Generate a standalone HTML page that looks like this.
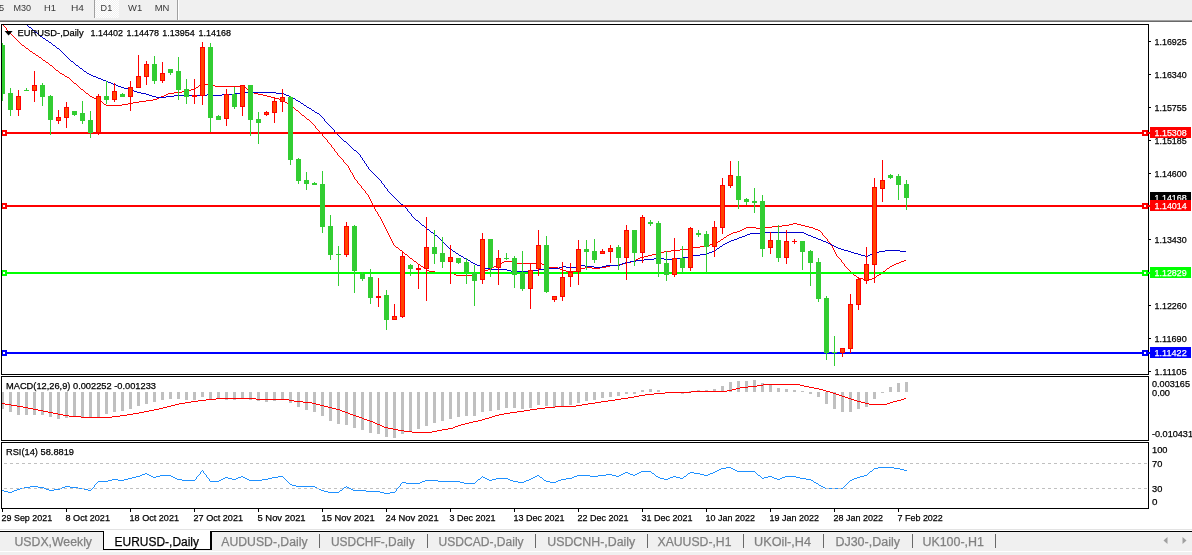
<!DOCTYPE html>
<html><head><meta charset="utf-8"><title>EURUSD-,Daily</title>
<style>
html,body{margin:0;padding:0;background:#fff;}
body{width:1192px;height:555px;overflow:hidden;}
svg{display:block;font-family:"Liberation Sans",sans-serif;}
svg rect{shape-rendering:crispEdges;}
</style></head><body>
<svg width="1192" height="555" viewBox="0 0 1192 555">
<rect x="0" y="0" width="1192" height="555" fill="#fff"/>
<rect x="0" y="0" width="1192" height="20" fill="#f0f0f0"/>
<rect x="0" y="20" width="1192" height="1" fill="#a0a0a0"/>
<rect x="0" y="21" width="1192" height="1" fill="#696969"/>
<pattern id="ck" width="2" height="2" patternUnits="userSpaceOnUse"><rect width="2" height="2" fill="#f0f0f0"/><rect width="1" height="1" fill="#fff"/><rect x="1" y="1" width="1" height="1" fill="#fff"/></pattern>
<rect x="95" y="0" width="24" height="18" fill="url(#ck)"/>
<rect x="94" y="0" width="1" height="18" fill="#a0a0a0"/>
<rect x="177" y="0" width="1" height="20" fill="#a0a0a0"/>
<rect x="178" y="0" width="1" height="20" fill="#fff"/>
<text x="-1" y="11.3" font-size="9.2" fill="#383838" stroke="#383838" stroke-width="0">5</text>
<text x="13.5" y="11.3" font-size="9.2" fill="#383838" stroke="#383838" stroke-width="0" textLength="17.6" lengthAdjust="spacingAndGlyphs">M30</text>
<text x="44" y="11.3" font-size="9.2" fill="#383838" stroke="#383838" stroke-width="0" textLength="12" lengthAdjust="spacingAndGlyphs">H1</text>
<text x="71" y="11.3" font-size="9.2" fill="#383838" stroke="#383838" stroke-width="0" textLength="13" lengthAdjust="spacingAndGlyphs">H4</text>
<text x="100.6" y="11.3" font-size="9.2" fill="#383838" stroke="#383838" stroke-width="0" textLength="11.6" lengthAdjust="spacingAndGlyphs">D1</text>
<text x="128.1" y="11.3" font-size="9.2" fill="#383838" stroke="#383838" stroke-width="0" textLength="14.1" lengthAdjust="spacingAndGlyphs">W1</text>
<text x="154.7" y="11.3" font-size="9.2" fill="#383838" stroke="#383838" stroke-width="0" textLength="14.7" lengthAdjust="spacingAndGlyphs">MN</text>
<clipPath id="cm"><rect x="2" y="25" width="1146" height="349"/></clipPath>
<g clip-path="url(#cm)">
<path d="M2 24h1v1h-1zM3 25h1v1h-1zM4 26h1v1h-1zM5 27h1v1h-1zM6 28h1v1h-1zM6 29h1v1h-1zM7 30h1v1h-1zM8 31h1v1h-1zM9 32h1v1h-1zM10 33h1v1h-1zM11 34h1v1h-1zM12 35h1v1h-1zM13 36h1v1h-1zM14 37h1v1h-1zM15 38h1v1h-1zM16 39h1v1h-1zM17 40h1v1h-1zM18 41h1v1h-1zM19 42h1v1h-1zM20 43h1v1h-1zM21 44h1v1h-1zM22 45h2v1h-2zM24 46h1v1h-1zM25 47h1v1h-1zM26 48h2v1h-2zM28 49h1v1h-1zM29 50h1v1h-1zM30 51h2v1h-2zM32 52h1v1h-1zM33 53h2v1h-2zM35 54h1v1h-1zM36 55h2v1h-2zM38 56h1v1h-1zM39 57h2v1h-2zM41 58h1v1h-1zM42 59h1v1h-1zM43 60h2v1h-2zM45 61h1v1h-1zM46 62h2v1h-2zM48 63h1v1h-1zM49 64h1v1h-1zM50 65h2v1h-2zM52 66h1v1h-1zM53 67h1v1h-1zM54 68h1v1h-1zM55 69h1v1h-1zM56 70h2v1h-2zM58 71h1v1h-1zM59 72h1v1h-1zM60 73h2v1h-2zM62 74h2v1h-2zM64 75h1v1h-1zM65 76h2v1h-2zM67 77h2v1h-2zM69 78h1v1h-1zM70 79h1v1h-1zM71 80h1v1h-1zM72 81h1v1h-1zM73 82h1v1h-1zM74 83h2v1h-2zM76 84h1v1h-1zM201 84h10v1h-10zM77 85h1v1h-1zM199 85h2v1h-2zM211 85h4v1h-4zM78 86h1v1h-1zM198 86h1v1h-1zM215 86h27v1h-27zM79 87h1v1h-1zM196 87h2v1h-2zM242 87h4v1h-4zM80 88h1v1h-1zM194 88h2v1h-2zM246 88h1v1h-1zM81 89h2v1h-2zM191 89h3v1h-3zM247 89h2v1h-2zM83 90h1v1h-1zM187 90h4v1h-4zM249 90h1v1h-1zM84 91h1v1h-1zM182 91h5v1h-5zM250 91h2v1h-2zM85 92h1v1h-1zM174 92h8v1h-8zM252 92h2v1h-2zM86 93h2v1h-2zM168 93h6v1h-6zM254 93h4v1h-4zM88 94h1v1h-1zM166 94h2v1h-2zM258 94h5v1h-5zM89 95h1v1h-1zM164 95h2v1h-2zM263 95h4v1h-4zM90 96h2v1h-2zM161 96h3v1h-3zM267 96h4v1h-4zM92 97h2v1h-2zM159 97h2v1h-2zM271 97h4v1h-4zM94 98h2v1h-2zM157 98h2v1h-2zM275 98h4v1h-4zM96 99h2v1h-2zM153 99h4v1h-4zM279 99h2v1h-2zM98 100h2v1h-2zM146 100h7v1h-7zM281 100h2v1h-2zM100 101h2v1h-2zM139 101h7v1h-7zM283 101h2v1h-2zM102 102h1v1h-1zM133 102h6v1h-6zM285 102h2v1h-2zM103 103h1v1h-1zM128 103h5v1h-5zM287 103h1v1h-1zM104 104h2v1h-2zM122 104h6v1h-6zM288 104h2v1h-2zM106 105h16v1h-16zM290 105h2v1h-2zM292 106h1v1h-1zM293 107h1v1h-1zM294 108h1v1h-1zM295 109h1v1h-1zM296 110h2v1h-2zM298 111h1v1h-1zM299 112h1v1h-1zM300 113h1v1h-1zM301 114h1v1h-1zM302 115h2v1h-2zM304 116h1v1h-1zM305 117h1v1h-1zM306 118h1v1h-1zM307 119h2v1h-2zM309 120h1v1h-1zM310 121h1v1h-1zM311 122h1v1h-1zM312 123h1v1h-1zM313 124h1v1h-1zM314 125h1v1h-1zM315 126h1v1h-1zM315 127h1v1h-1zM316 128h1v1h-1zM317 129h1v1h-1zM318 130h1v1h-1zM319 131h1v1h-1zM320 132h1v1h-1zM321 133h1v1h-1zM322 134h1v1h-1zM322 135h1v1h-1zM323 136h1v1h-1zM324 137h1v1h-1zM325 138h1v1h-1zM326 139h1v1h-1zM327 140h1v1h-1zM327 141h1v1h-1zM328 142h1v1h-1zM329 143h1v1h-1zM330 144h1v1h-1zM331 145h1v1h-1zM331 146h1v1h-1zM332 147h1v1h-1zM333 148h1v1h-1zM334 149h1v1h-1zM334 150h1v1h-1zM335 151h1v1h-1zM336 152h1v1h-1zM337 153h1v1h-1zM337 154h1v1h-1zM338 155h1v1h-1zM339 156h1v1h-1zM340 157h1v1h-1zM341 158h1v1h-1zM342 159h1v1h-1zM343 160h1v1h-1zM343 161h1v1h-1zM344 162h1v1h-1zM345 163h1v1h-1zM346 164h1v1h-1zM347 165h1v1h-1zM348 166h1v1h-1zM348 167h1v1h-1zM349 168h1v1h-1zM349 169h1v1h-1zM350 170h1v1h-1zM350 171h1v1h-1zM351 172h1v1h-1zM352 173h1v1h-1zM352 174h1v1h-1zM353 175h1v1h-1zM353 176h1v1h-1zM354 177h1v1h-1zM354 178h1v1h-1zM355 179h1v1h-1zM356 180h1v1h-1zM357 181h1v1h-1zM357 182h1v1h-1zM358 183h1v1h-1zM359 184h1v1h-1zM360 185h1v1h-1zM361 186h1v1h-1zM361 187h1v1h-1zM362 188h1v1h-1zM363 189h1v1h-1zM364 190h1v1h-1zM365 191h1v1h-1zM365 192h1v1h-1zM366 193h1v1h-1zM367 194h1v1h-1zM368 195h1v1h-1zM368 196h1v1h-1zM369 197h1v1h-1zM369 198h1v1h-1zM370 199h1v1h-1zM370 200h1v1h-1zM371 201h1v1h-1zM371 202h1v1h-1zM372 203h1v1h-1zM372 204h1v1h-1zM373 205h1v1h-1zM373 206h1v1h-1zM374 207h1v1h-1zM374 208h1v1h-1zM375 209h1v1h-1zM375 210h1v1h-1zM376 211h1v1h-1zM377 212h1v1h-1zM377 213h1v1h-1zM378 214h1v1h-1zM378 215h1v1h-1zM379 216h1v1h-1zM380 217h1v1h-1zM380 218h1v1h-1zM381 219h1v1h-1zM381 220h1v1h-1zM382 221h1v1h-1zM382 222h1v1h-1zM383 223h1v1h-1zM793 223h4v1h-4zM383 224h1v1h-1zM789 224h4v1h-4zM797 224h4v1h-4zM384 225h1v1h-1zM782 225h7v1h-7zM801 225h4v1h-4zM384 226h1v1h-1zM772 226h10v1h-10zM805 226h4v1h-4zM385 227h1v1h-1zM746 227h10v1h-10zM764 227h8v1h-8zM809 227h4v1h-4zM385 228h1v1h-1zM744 228h2v1h-2zM756 228h8v1h-8zM813 228h2v1h-2zM386 229h1v1h-1zM742 229h2v1h-2zM815 229h3v1h-3zM386 230h1v1h-1zM740 230h2v1h-2zM818 230h2v1h-2zM387 231h1v1h-1zM737 231h3v1h-3zM820 231h1v1h-1zM387 232h1v1h-1zM733 232h4v1h-4zM821 232h1v1h-1zM388 233h1v1h-1zM731 233h2v1h-2zM822 233h1v1h-1zM388 234h1v1h-1zM729 234h2v1h-2zM822 234h1v1h-1zM389 235h1v1h-1zM727 235h2v1h-2zM823 235h1v1h-1zM389 236h1v1h-1zM726 236h1v1h-1zM824 236h1v1h-1zM390 237h1v1h-1zM724 237h2v1h-2zM825 237h1v1h-1zM390 238h1v1h-1zM723 238h1v1h-1zM826 238h1v1h-1zM391 239h1v1h-1zM721 239h2v1h-2zM827 239h1v1h-1zM391 240h1v1h-1zM720 240h1v1h-1zM827 240h1v1h-1zM392 241h1v1h-1zM718 241h2v1h-2zM828 241h1v1h-1zM392 242h1v1h-1zM716 242h2v1h-2zM829 242h1v1h-1zM393 243h1v1h-1zM713 243h3v1h-3zM830 243h1v1h-1zM393 244h1v1h-1zM710 244h3v1h-3zM830 244h1v1h-1zM394 245h1v1h-1zM707 245h3v1h-3zM831 245h1v1h-1zM395 246h1v1h-1zM700 246h7v1h-7zM832 246h1v1h-1zM396 247h2v1h-2zM693 247h7v1h-7zM832 247h1v1h-1zM398 248h1v1h-1zM688 248h5v1h-5zM833 248h1v1h-1zM399 249h1v1h-1zM680 249h8v1h-8zM833 249h1v1h-1zM400 250h2v1h-2zM671 250h9v1h-9zM834 250h1v1h-1zM402 251h1v1h-1zM664 251h7v1h-7zM834 251h1v1h-1zM403 252h1v1h-1zM660 252h4v1h-4zM835 252h1v1h-1zM404 253h1v1h-1zM656 253h4v1h-4zM835 253h1v1h-1zM405 254h2v1h-2zM652 254h4v1h-4zM836 254h1v1h-1zM407 255h1v1h-1zM648 255h4v1h-4zM836 255h1v1h-1zM408 256h1v1h-1zM644 256h4v1h-4zM837 256h1v1h-1zM409 257h1v1h-1zM640 257h4v1h-4zM838 257h1v1h-1zM410 258h2v1h-2zM638 258h2v1h-2zM839 258h1v1h-1zM412 259h1v1h-1zM636 259h2v1h-2zM840 259h1v1h-1zM413 260h1v1h-1zM634 260h2v1h-2zM841 260h1v1h-1zM904 260h2v1h-2zM414 261h2v1h-2zM504 261h9v1h-9zM631 261h3v1h-3zM841 261h1v1h-1zM901 261h3v1h-3zM416 262h1v1h-1zM502 262h2v1h-2zM513 262h4v1h-4zM627 262h4v1h-4zM842 262h1v1h-1zM899 262h2v1h-2zM417 263h1v1h-1zM500 263h2v1h-2zM517 263h25v1h-25zM623 263h4v1h-4zM843 263h1v1h-1zM896 263h3v1h-3zM418 264h2v1h-2zM498 264h2v1h-2zM542 264h2v1h-2zM619 264h4v1h-4zM844 264h1v1h-1zM894 264h2v1h-2zM420 265h1v1h-1zM496 265h2v1h-2zM544 265h2v1h-2zM610 265h9v1h-9zM844 265h1v1h-1zM892 265h2v1h-2zM421 266h2v1h-2zM494 266h2v1h-2zM546 266h2v1h-2zM606 266h4v1h-4zM845 266h1v1h-1zM890 266h2v1h-2zM423 267h2v1h-2zM492 267h2v1h-2zM548 267h10v1h-10zM585 267h7v1h-7zM600 267h6v1h-6zM846 267h1v1h-1zM889 267h1v1h-1zM425 268h1v1h-1zM490 268h2v1h-2zM558 268h2v1h-2zM580 268h5v1h-5zM592 268h8v1h-8zM847 268h1v1h-1zM887 268h2v1h-2zM426 269h1v1h-1zM488 269h2v1h-2zM560 269h3v1h-3zM578 269h2v1h-2zM848 269h1v1h-1zM886 269h1v1h-1zM427 270h2v1h-2zM485 270h3v1h-3zM563 270h3v1h-3zM576 270h2v1h-2zM849 270h1v1h-1zM885 270h1v1h-1zM429 271h6v1h-6zM483 271h2v1h-2zM566 271h10v1h-10zM850 271h1v1h-1zM883 271h2v1h-2zM435 272h9v1h-9zM480 272h3v1h-3zM851 272h1v1h-1zM882 272h1v1h-1zM444 273h10v1h-10zM477 273h3v1h-3zM852 273h1v1h-1zM881 273h1v1h-1zM454 274h2v1h-2zM474 274h3v1h-3zM853 274h1v1h-1zM879 274h2v1h-2zM456 275h18v1h-18zM854 275h2v1h-2zM877 275h2v1h-2zM856 276h1v1h-1zM876 276h1v1h-1zM857 277h2v1h-2zM874 277h2v1h-2zM859 278h4v1h-4zM872 278h2v1h-2zM863 279h3v1h-3zM869 279h3v1h-3zM866 280h3v1h-3z" fill="#ff0000" shape-rendering="crispEdges"/>
<path d="M26 24h1v1h-1zM27 25h1v1h-1zM28 26h1v1h-1zM29 27h2v1h-2zM31 28h1v1h-1zM32 29h1v1h-1zM33 30h1v1h-1zM34 31h1v1h-1zM35 32h2v1h-2zM37 33h1v1h-1zM38 34h1v1h-1zM39 35h1v1h-1zM40 36h2v1h-2zM42 37h1v1h-1zM43 38h2v1h-2zM45 39h1v1h-1zM46 40h2v1h-2zM48 41h1v1h-1zM49 42h2v1h-2zM51 43h1v1h-1zM52 44h1v1h-1zM53 45h2v1h-2zM55 46h1v1h-1zM56 47h1v1h-1zM57 48h2v1h-2zM59 49h1v1h-1zM60 50h1v1h-1zM61 51h1v1h-1zM62 52h1v1h-1zM63 53h1v1h-1zM64 54h1v1h-1zM65 55h1v1h-1zM66 56h1v1h-1zM67 57h1v1h-1zM68 58h1v1h-1zM69 59h1v1h-1zM70 60h1v1h-1zM71 61h2v1h-2zM73 62h1v1h-1zM74 63h1v1h-1zM75 64h1v1h-1zM76 65h2v1h-2zM78 66h1v1h-1zM79 67h1v1h-1zM80 68h2v1h-2zM82 69h1v1h-1zM83 70h1v1h-1zM84 71h2v1h-2zM86 72h1v1h-1zM87 73h2v1h-2zM89 74h2v1h-2zM91 75h2v1h-2zM93 76h3v1h-3zM96 77h2v1h-2zM98 78h3v1h-3zM101 79h2v1h-2zM103 80h3v1h-3zM106 81h2v1h-2zM108 82h3v1h-3zM111 83h2v1h-2zM113 84h3v1h-3zM116 85h2v1h-2zM118 86h3v1h-3zM121 87h3v1h-3zM124 88h4v1h-4zM128 89h3v1h-3zM131 90h3v1h-3zM134 91h3v1h-3zM137 92h4v1h-4zM244 92h32v1h-32zM141 93h5v1h-5zM234 93h10v1h-10zM276 93h8v1h-8zM146 94h3v1h-3zM207 94h1v1h-1zM222 94h12v1h-12zM284 94h2v1h-2zM149 95h3v1h-3zM174 95h33v1h-33zM208 95h14v1h-14zM286 95h3v1h-3zM152 96h4v1h-4zM166 96h8v1h-8zM289 96h2v1h-2zM156 97h10v1h-10zM291 97h2v1h-2zM293 98h2v1h-2zM295 99h1v1h-1zM296 100h2v1h-2zM298 101h2v1h-2zM300 102h1v1h-1zM301 103h2v1h-2zM303 104h1v1h-1zM304 105h2v1h-2zM306 106h1v1h-1zM307 107h2v1h-2zM309 108h2v1h-2zM311 109h1v1h-1zM312 110h2v1h-2zM314 111h1v1h-1zM315 112h2v1h-2zM317 113h2v1h-2zM319 114h1v1h-1zM320 115h1v1h-1zM321 116h1v1h-1zM322 117h1v1h-1zM323 118h1v1h-1zM324 119h1v1h-1zM324 120h1v1h-1zM325 121h1v1h-1zM326 122h1v1h-1zM327 123h1v1h-1zM328 124h1v1h-1zM329 125h1v1h-1zM330 126h1v1h-1zM331 127h1v1h-1zM332 128h1v1h-1zM333 129h1v1h-1zM334 130h1v1h-1zM334 131h1v1h-1zM335 132h1v1h-1zM336 133h1v1h-1zM337 134h1v1h-1zM338 135h1v1h-1zM339 136h1v1h-1zM340 137h1v1h-1zM341 138h1v1h-1zM342 139h1v1h-1zM343 140h1v1h-1zM344 141h2v1h-2zM346 142h1v1h-1zM347 143h1v1h-1zM348 144h1v1h-1zM349 145h1v1h-1zM350 146h1v1h-1zM351 147h1v1h-1zM352 148h1v1h-1zM353 149h1v1h-1zM354 150h2v1h-2zM356 151h1v1h-1zM357 152h1v1h-1zM358 153h1v1h-1zM359 154h1v1h-1zM360 155h1v1h-1zM360 156h1v1h-1zM361 157h1v1h-1zM362 158h1v1h-1zM362 159h1v1h-1zM363 160h1v1h-1zM364 161h1v1h-1zM364 162h1v1h-1zM365 163h1v1h-1zM366 164h1v1h-1zM366 165h1v1h-1zM367 166h1v1h-1zM368 167h1v1h-1zM368 168h1v1h-1zM369 169h1v1h-1zM370 170h1v1h-1zM371 171h1v1h-1zM372 172h1v1h-1zM373 173h1v1h-1zM374 174h1v1h-1zM375 175h1v1h-1zM376 176h1v1h-1zM377 177h1v1h-1zM378 178h1v1h-1zM379 179h1v1h-1zM380 180h1v1h-1zM381 181h1v1h-1zM381 182h1v1h-1zM382 183h1v1h-1zM383 184h1v1h-1zM384 185h1v1h-1zM384 186h1v1h-1zM385 187h1v1h-1zM386 188h1v1h-1zM387 189h1v1h-1zM387 190h1v1h-1zM388 191h1v1h-1zM389 192h1v1h-1zM390 193h1v1h-1zM391 194h1v1h-1zM392 195h1v1h-1zM393 196h1v1h-1zM394 197h1v1h-1zM395 198h1v1h-1zM396 199h1v1h-1zM397 200h1v1h-1zM398 201h1v1h-1zM399 202h1v1h-1zM400 203h1v1h-1zM401 204h2v1h-2zM403 205h1v1h-1zM404 206h1v1h-1zM405 207h1v1h-1zM406 208h1v1h-1zM407 209h1v1h-1zM407 210h1v1h-1zM408 211h1v1h-1zM409 212h1v1h-1zM410 213h1v1h-1zM411 214h1v1h-1zM411 215h1v1h-1zM412 216h1v1h-1zM413 217h1v1h-1zM414 218h1v1h-1zM415 219h1v1h-1zM416 220h2v1h-2zM418 221h1v1h-1zM419 222h1v1h-1zM420 223h1v1h-1zM421 224h1v1h-1zM422 225h2v1h-2zM424 226h1v1h-1zM425 227h1v1h-1zM426 228h1v1h-1zM427 229h2v1h-2zM429 230h1v1h-1zM430 231h1v1h-1zM431 232h2v1h-2zM762 232h42v1h-42zM433 233h1v1h-1zM750 233h12v1h-12zM804 233h2v1h-2zM434 234h1v1h-1zM747 234h3v1h-3zM806 234h2v1h-2zM435 235h2v1h-2zM745 235h2v1h-2zM808 235h3v1h-3zM437 236h1v1h-1zM742 236h3v1h-3zM811 236h2v1h-2zM438 237h1v1h-1zM739 237h3v1h-3zM813 237h3v1h-3zM439 238h1v1h-1zM737 238h2v1h-2zM816 238h2v1h-2zM440 239h1v1h-1zM734 239h3v1h-3zM818 239h3v1h-3zM441 240h1v1h-1zM731 240h3v1h-3zM821 240h2v1h-2zM442 241h1v1h-1zM729 241h2v1h-2zM823 241h3v1h-3zM443 242h1v1h-1zM727 242h2v1h-2zM826 242h2v1h-2zM444 243h1v1h-1zM725 243h2v1h-2zM828 243h2v1h-2zM445 244h1v1h-1zM723 244h2v1h-2zM830 244h2v1h-2zM446 245h1v1h-1zM722 245h1v1h-1zM832 245h2v1h-2zM447 246h1v1h-1zM720 246h2v1h-2zM834 246h2v1h-2zM448 247h1v1h-1zM719 247h1v1h-1zM836 247h2v1h-2zM449 248h2v1h-2zM717 248h2v1h-2zM838 248h3v1h-3zM451 249h1v1h-1zM716 249h1v1h-1zM841 249h3v1h-3zM452 250h1v1h-1zM714 250h2v1h-2zM844 250h4v1h-4zM885 250h15v1h-15zM453 251h2v1h-2zM712 251h2v1h-2zM848 251h3v1h-3zM879 251h6v1h-6zM900 251h6v1h-6zM455 252h1v1h-1zM709 252h3v1h-3zM851 252h3v1h-3zM875 252h4v1h-4zM456 253h2v1h-2zM707 253h2v1h-2zM854 253h4v1h-4zM872 253h3v1h-3zM458 254h1v1h-1zM700 254h7v1h-7zM858 254h3v1h-3zM870 254h2v1h-2zM459 255h2v1h-2zM693 255h7v1h-7zM861 255h4v1h-4zM868 255h2v1h-2zM461 256h2v1h-2zM689 256h4v1h-4zM865 256h3v1h-3zM463 257h1v1h-1zM683 257h6v1h-6zM464 258h2v1h-2zM654 258h10v1h-10zM674 258h9v1h-9zM466 259h2v1h-2zM644 259h10v1h-10zM664 259h10v1h-10zM468 260h2v1h-2zM636 260h8v1h-8zM470 261h1v1h-1zM630 261h6v1h-6zM471 262h2v1h-2zM625 262h5v1h-5zM473 263h2v1h-2zM622 263h3v1h-3zM475 264h2v1h-2zM620 264h2v1h-2zM477 265h3v1h-3zM580 265h5v1h-5zM606 265h14v1h-14zM480 266h2v1h-2zM562 266h4v1h-4zM577 266h3v1h-3zM585 266h9v1h-9zM602 266h4v1h-4zM482 267h3v1h-3zM559 267h3v1h-3zM566 267h11v1h-11zM594 267h8v1h-8zM485 268h6v1h-6zM546 268h13v1h-13zM491 269h16v1h-16zM539 269h7v1h-7zM507 270h4v1h-4zM530 270h9v1h-9zM511 271h19v1h-19z" fill="#0000cd" shape-rendering="crispEdges"/>
</g>
<rect x="2" y="132" width="1146" height="2" fill="#ff0000"/>
<rect x="1" y="130" width="6" height="6" fill="#ff0000"/>
<rect x="3" y="132" width="2" height="2" fill="#fff"/>
<rect x="1142" y="130" width="6" height="6" fill="#ff0000"/>
<rect x="1144" y="132" width="2" height="2" fill="#fff"/>
<rect x="2" y="205" width="1146" height="2" fill="#ff0000"/>
<rect x="1" y="203" width="6" height="6" fill="#ff0000"/>
<rect x="3" y="205" width="2" height="2" fill="#fff"/>
<rect x="1142" y="203" width="6" height="6" fill="#ff0000"/>
<rect x="1144" y="205" width="2" height="2" fill="#fff"/>
<rect x="2" y="272" width="1146" height="2" fill="#00ff00"/>
<rect x="1" y="270" width="6" height="6" fill="#00ff00"/>
<rect x="3" y="272" width="2" height="2" fill="#fff"/>
<rect x="1142" y="270" width="6" height="6" fill="#00ff00"/>
<rect x="1144" y="272" width="2" height="2" fill="#fff"/>
<rect x="2" y="352" width="1146" height="2" fill="#0000ff"/>
<rect x="1" y="350" width="6" height="6" fill="#0000ff"/>
<rect x="3" y="352" width="2" height="2" fill="#fff"/>
<rect x="1142" y="350" width="6" height="6" fill="#0000ff"/>
<rect x="1144" y="352" width="2" height="2" fill="#fff"/>
<g clip-path="url(#cm)">
<rect x="2" y="43" width="1" height="58" fill="#32cd32"/>
<rect x="0" y="45" width="5" height="49" fill="#32cd32"/>
<rect x="10" y="88" width="1" height="28" fill="#32cd32"/>
<rect x="8" y="93" width="5" height="17" fill="#32cd32"/>
<rect x="18" y="90" width="1" height="26" fill="#ff0000"/>
<rect x="16" y="96" width="5" height="14" fill="#ff0000"/>
<rect x="17" y="97" width="3" height="12" fill="#ff4500"/>
<rect x="26" y="88" width="1" height="3" fill="#32cd32"/>
<rect x="24" y="90" width="5" height="1" fill="#32cd32"/>
<rect x="34" y="71" width="1" height="31" fill="#ff0000"/>
<rect x="32" y="85" width="5" height="6" fill="#ff0000"/>
<rect x="33" y="86" width="3" height="4" fill="#ff4500"/>
<rect x="42" y="83" width="1" height="23" fill="#32cd32"/>
<rect x="40" y="85" width="5" height="12" fill="#32cd32"/>
<rect x="50" y="95" width="1" height="40" fill="#32cd32"/>
<rect x="48" y="96" width="5" height="24" fill="#32cd32"/>
<rect x="58" y="110" width="1" height="14" fill="#ff0000"/>
<rect x="56" y="117" width="5" height="4" fill="#ff0000"/>
<rect x="57" y="118" width="3" height="2" fill="#ff4500"/>
<rect x="66" y="102" width="1" height="26" fill="#ff0000"/>
<rect x="64" y="107" width="5" height="11" fill="#ff0000"/>
<rect x="65" y="108" width="3" height="9" fill="#ff4500"/>
<rect x="74" y="111" width="1" height="5" fill="#32cd32"/>
<rect x="72" y="111" width="5" height="4" fill="#32cd32"/>
<rect x="82" y="101" width="1" height="23" fill="#32cd32"/>
<rect x="80" y="113" width="5" height="8" fill="#32cd32"/>
<rect x="90" y="111" width="1" height="27" fill="#32cd32"/>
<rect x="88" y="120" width="5" height="13" fill="#32cd32"/>
<rect x="98" y="94" width="1" height="41" fill="#ff0000"/>
<rect x="96" y="96" width="5" height="37" fill="#ff0000"/>
<rect x="97" y="97" width="3" height="35" fill="#ff4500"/>
<rect x="106" y="81" width="1" height="23" fill="#32cd32"/>
<rect x="104" y="96" width="5" height="4" fill="#32cd32"/>
<rect x="114" y="83" width="1" height="19" fill="#ff0000"/>
<rect x="112" y="91" width="5" height="9" fill="#ff0000"/>
<rect x="113" y="92" width="3" height="7" fill="#ff4500"/>
<rect x="122" y="93" width="1" height="4" fill="#32cd32"/>
<rect x="120" y="94" width="5" height="3" fill="#32cd32"/>
<rect x="130" y="81" width="1" height="30" fill="#ff0000"/>
<rect x="128" y="87" width="5" height="10" fill="#ff0000"/>
<rect x="129" y="88" width="3" height="8" fill="#ff4500"/>
<rect x="138" y="55" width="1" height="33" fill="#ff0000"/>
<rect x="136" y="76" width="5" height="12" fill="#ff0000"/>
<rect x="137" y="77" width="3" height="10" fill="#ff4500"/>
<rect x="146" y="61" width="1" height="24" fill="#ff0000"/>
<rect x="144" y="64" width="5" height="13" fill="#ff0000"/>
<rect x="145" y="65" width="3" height="11" fill="#ff4500"/>
<rect x="154" y="56" width="1" height="28" fill="#32cd32"/>
<rect x="152" y="64" width="5" height="17" fill="#32cd32"/>
<rect x="162" y="62" width="1" height="21" fill="#ff0000"/>
<rect x="160" y="73" width="5" height="8" fill="#ff0000"/>
<rect x="161" y="74" width="3" height="6" fill="#ff4500"/>
<rect x="170" y="69" width="1" height="6" fill="#32cd32"/>
<rect x="168" y="69" width="5" height="4" fill="#32cd32"/>
<rect x="178" y="57" width="1" height="43" fill="#32cd32"/>
<rect x="176" y="71" width="5" height="19" fill="#32cd32"/>
<rect x="186" y="79" width="1" height="25" fill="#32cd32"/>
<rect x="184" y="89" width="5" height="8" fill="#32cd32"/>
<rect x="194" y="79" width="1" height="25" fill="#ff0000"/>
<rect x="192" y="95" width="5" height="2" fill="#ff0000"/>
<rect x="202" y="42" width="1" height="63" fill="#ff0000"/>
<rect x="200" y="47" width="5" height="49" fill="#ff0000"/>
<rect x="201" y="48" width="3" height="47" fill="#ff4500"/>
<rect x="210" y="43" width="1" height="89" fill="#32cd32"/>
<rect x="208" y="47" width="5" height="71" fill="#32cd32"/>
<rect x="218" y="115" width="1" height="5" fill="#32cd32"/>
<rect x="216" y="116" width="5" height="4" fill="#32cd32"/>
<rect x="226" y="89" width="1" height="37" fill="#ff0000"/>
<rect x="224" y="94" width="5" height="25" fill="#ff0000"/>
<rect x="225" y="95" width="3" height="23" fill="#ff4500"/>
<rect x="234" y="87" width="1" height="22" fill="#32cd32"/>
<rect x="232" y="94" width="5" height="13" fill="#32cd32"/>
<rect x="242" y="85" width="1" height="31" fill="#ff0000"/>
<rect x="240" y="85" width="5" height="22" fill="#ff0000"/>
<rect x="241" y="86" width="3" height="20" fill="#ff4500"/>
<rect x="250" y="85" width="1" height="51" fill="#32cd32"/>
<rect x="248" y="85" width="5" height="35" fill="#32cd32"/>
<rect x="258" y="112" width="1" height="32" fill="#32cd32"/>
<rect x="256" y="119" width="5" height="4" fill="#32cd32"/>
<rect x="266" y="111" width="1" height="5" fill="#ff0000"/>
<rect x="264" y="112" width="5" height="3" fill="#ff0000"/>
<rect x="265" y="113" width="3" height="1" fill="#ff4500"/>
<rect x="274" y="97" width="1" height="26" fill="#ff0000"/>
<rect x="272" y="101" width="5" height="12" fill="#ff0000"/>
<rect x="273" y="102" width="3" height="10" fill="#ff4500"/>
<rect x="282" y="89" width="1" height="23" fill="#ff0000"/>
<rect x="280" y="97" width="5" height="5" fill="#ff0000"/>
<rect x="281" y="98" width="3" height="3" fill="#ff4500"/>
<rect x="290" y="96" width="1" height="69" fill="#32cd32"/>
<rect x="288" y="97" width="5" height="63" fill="#32cd32"/>
<rect x="298" y="158" width="1" height="26" fill="#32cd32"/>
<rect x="296" y="159" width="5" height="22" fill="#32cd32"/>
<rect x="306" y="172" width="1" height="18" fill="#32cd32"/>
<rect x="304" y="180" width="5" height="4" fill="#32cd32"/>
<rect x="314" y="182" width="1" height="3" fill="#32cd32"/>
<rect x="312" y="183" width="5" height="2" fill="#32cd32"/>
<rect x="322" y="171" width="1" height="62" fill="#32cd32"/>
<rect x="320" y="184" width="5" height="43" fill="#32cd32"/>
<rect x="330" y="215" width="1" height="45" fill="#32cd32"/>
<rect x="328" y="226" width="5" height="29" fill="#32cd32"/>
<rect x="338" y="246" width="1" height="40" fill="#32cd32"/>
<rect x="336" y="254" width="5" height="1" fill="#32cd32"/>
<rect x="346" y="222" width="1" height="35" fill="#ff0000"/>
<rect x="344" y="226" width="5" height="29" fill="#ff0000"/>
<rect x="345" y="227" width="3" height="27" fill="#ff4500"/>
<rect x="354" y="225" width="1" height="68" fill="#32cd32"/>
<rect x="352" y="226" width="5" height="45" fill="#32cd32"/>
<rect x="362" y="272" width="1" height="9" fill="#32cd32"/>
<rect x="360" y="274" width="5" height="5" fill="#32cd32"/>
<rect x="370" y="269" width="1" height="35" fill="#32cd32"/>
<rect x="368" y="277" width="5" height="21" fill="#32cd32"/>
<rect x="378" y="278" width="1" height="29" fill="#ff0000"/>
<rect x="376" y="296" width="5" height="2" fill="#ff0000"/>
<rect x="386" y="290" width="1" height="40" fill="#32cd32"/>
<rect x="384" y="295" width="5" height="25" fill="#32cd32"/>
<rect x="394" y="304" width="1" height="16" fill="#ff0000"/>
<rect x="392" y="316" width="5" height="4" fill="#ff0000"/>
<rect x="393" y="317" width="3" height="2" fill="#ff4500"/>
<rect x="402" y="252" width="1" height="66" fill="#ff0000"/>
<rect x="400" y="256" width="5" height="61" fill="#ff0000"/>
<rect x="401" y="257" width="3" height="59" fill="#ff4500"/>
<rect x="410" y="264" width="1" height="12" fill="#32cd32"/>
<rect x="408" y="265" width="5" height="4" fill="#32cd32"/>
<rect x="418" y="264" width="1" height="25" fill="#ff0000"/>
<rect x="416" y="268" width="5" height="2" fill="#ff0000"/>
<rect x="426" y="217" width="1" height="84" fill="#ff0000"/>
<rect x="424" y="247" width="5" height="22" fill="#ff0000"/>
<rect x="425" y="248" width="3" height="20" fill="#ff4500"/>
<rect x="434" y="230" width="1" height="34" fill="#32cd32"/>
<rect x="432" y="247" width="5" height="7" fill="#32cd32"/>
<rect x="442" y="237" width="1" height="31" fill="#32cd32"/>
<rect x="440" y="253" width="5" height="9" fill="#32cd32"/>
<rect x="450" y="245" width="1" height="39" fill="#ff0000"/>
<rect x="448" y="257" width="5" height="5" fill="#ff0000"/>
<rect x="449" y="258" width="3" height="3" fill="#ff4500"/>
<rect x="458" y="258" width="1" height="6" fill="#32cd32"/>
<rect x="456" y="258" width="5" height="5" fill="#32cd32"/>
<rect x="466" y="258" width="1" height="26" fill="#32cd32"/>
<rect x="464" y="262" width="5" height="10" fill="#32cd32"/>
<rect x="474" y="265" width="1" height="41" fill="#32cd32"/>
<rect x="472" y="273" width="5" height="8" fill="#32cd32"/>
<rect x="482" y="233" width="1" height="51" fill="#ff0000"/>
<rect x="480" y="239" width="5" height="41" fill="#ff0000"/>
<rect x="481" y="240" width="3" height="39" fill="#ff4500"/>
<rect x="490" y="239" width="1" height="38" fill="#32cd32"/>
<rect x="488" y="239" width="5" height="29" fill="#32cd32"/>
<rect x="498" y="250" width="1" height="35" fill="#ff0000"/>
<rect x="496" y="258" width="5" height="10" fill="#ff0000"/>
<rect x="497" y="259" width="3" height="8" fill="#ff4500"/>
<rect x="506" y="253" width="1" height="7" fill="#32cd32"/>
<rect x="504" y="258" width="5" height="1" fill="#32cd32"/>
<rect x="514" y="256" width="1" height="32" fill="#32cd32"/>
<rect x="512" y="258" width="5" height="17" fill="#32cd32"/>
<rect x="522" y="251" width="1" height="40" fill="#32cd32"/>
<rect x="520" y="273" width="5" height="16" fill="#32cd32"/>
<rect x="530" y="264" width="1" height="45" fill="#ff0000"/>
<rect x="528" y="270" width="5" height="19" fill="#ff0000"/>
<rect x="529" y="271" width="3" height="17" fill="#ff4500"/>
<rect x="538" y="230" width="1" height="46" fill="#ff0000"/>
<rect x="536" y="245" width="5" height="24" fill="#ff0000"/>
<rect x="537" y="246" width="3" height="22" fill="#ff4500"/>
<rect x="546" y="236" width="1" height="57" fill="#32cd32"/>
<rect x="544" y="245" width="5" height="47" fill="#32cd32"/>
<rect x="554" y="296" width="1" height="6" fill="#ff0000"/>
<rect x="552" y="296" width="5" height="4" fill="#ff0000"/>
<rect x="553" y="297" width="3" height="2" fill="#ff4500"/>
<rect x="562" y="262" width="1" height="39" fill="#ff0000"/>
<rect x="560" y="277" width="5" height="20" fill="#ff0000"/>
<rect x="561" y="278" width="3" height="18" fill="#ff4500"/>
<rect x="570" y="263" width="1" height="24" fill="#ff0000"/>
<rect x="568" y="272" width="5" height="5" fill="#ff0000"/>
<rect x="569" y="273" width="3" height="3" fill="#ff4500"/>
<rect x="578" y="240" width="1" height="45" fill="#ff0000"/>
<rect x="576" y="249" width="5" height="23" fill="#ff0000"/>
<rect x="577" y="250" width="3" height="21" fill="#ff4500"/>
<rect x="586" y="240" width="1" height="30" fill="#32cd32"/>
<rect x="584" y="249" width="5" height="3" fill="#32cd32"/>
<rect x="594" y="239" width="1" height="24" fill="#32cd32"/>
<rect x="592" y="251" width="5" height="9" fill="#32cd32"/>
<rect x="602" y="249" width="1" height="5" fill="#ff0000"/>
<rect x="600" y="251" width="5" height="3" fill="#ff0000"/>
<rect x="601" y="252" width="3" height="1" fill="#ff4500"/>
<rect x="610" y="245" width="1" height="18" fill="#ff0000"/>
<rect x="608" y="248" width="5" height="4" fill="#ff0000"/>
<rect x="609" y="249" width="3" height="2" fill="#ff4500"/>
<rect x="618" y="245" width="1" height="25" fill="#32cd32"/>
<rect x="616" y="247" width="5" height="11" fill="#32cd32"/>
<rect x="626" y="225" width="1" height="55" fill="#ff0000"/>
<rect x="624" y="230" width="5" height="28" fill="#ff0000"/>
<rect x="625" y="231" width="3" height="26" fill="#ff4500"/>
<rect x="634" y="230" width="1" height="36" fill="#32cd32"/>
<rect x="632" y="230" width="5" height="23" fill="#32cd32"/>
<rect x="642" y="215" width="1" height="48" fill="#ff0000"/>
<rect x="640" y="217" width="5" height="36" fill="#ff0000"/>
<rect x="641" y="218" width="3" height="34" fill="#ff4500"/>
<rect x="650" y="220" width="1" height="6" fill="#32cd32"/>
<rect x="648" y="222" width="5" height="2" fill="#32cd32"/>
<rect x="658" y="221" width="1" height="56" fill="#32cd32"/>
<rect x="656" y="223" width="5" height="41" fill="#32cd32"/>
<rect x="666" y="251" width="1" height="30" fill="#32cd32"/>
<rect x="664" y="263" width="5" height="12" fill="#32cd32"/>
<rect x="674" y="238" width="1" height="39" fill="#ff0000"/>
<rect x="672" y="258" width="5" height="17" fill="#ff0000"/>
<rect x="673" y="259" width="3" height="15" fill="#ff4500"/>
<rect x="682" y="246" width="1" height="27" fill="#32cd32"/>
<rect x="680" y="258" width="5" height="10" fill="#32cd32"/>
<rect x="690" y="227" width="1" height="44" fill="#ff0000"/>
<rect x="688" y="228" width="5" height="40" fill="#ff0000"/>
<rect x="689" y="229" width="3" height="38" fill="#ff4500"/>
<rect x="698" y="230" width="1" height="7" fill="#32cd32"/>
<rect x="696" y="233" width="5" height="2" fill="#32cd32"/>
<rect x="706" y="231" width="1" height="42" fill="#32cd32"/>
<rect x="704" y="234" width="5" height="13" fill="#32cd32"/>
<rect x="714" y="221" width="1" height="36" fill="#ff0000"/>
<rect x="712" y="227" width="5" height="20" fill="#ff0000"/>
<rect x="713" y="228" width="3" height="18" fill="#ff4500"/>
<rect x="722" y="178" width="1" height="56" fill="#ff0000"/>
<rect x="720" y="185" width="5" height="43" fill="#ff0000"/>
<rect x="721" y="186" width="3" height="41" fill="#ff4500"/>
<rect x="730" y="161" width="1" height="27" fill="#ff0000"/>
<rect x="728" y="175" width="5" height="11" fill="#ff0000"/>
<rect x="729" y="176" width="3" height="9" fill="#ff4500"/>
<rect x="738" y="161" width="1" height="48" fill="#32cd32"/>
<rect x="736" y="176" width="5" height="24" fill="#32cd32"/>
<rect x="746" y="198" width="1" height="7" fill="#32cd32"/>
<rect x="744" y="199" width="5" height="3" fill="#32cd32"/>
<rect x="754" y="188" width="1" height="25" fill="#32cd32"/>
<rect x="752" y="201" width="5" height="2" fill="#32cd32"/>
<rect x="762" y="195" width="1" height="62" fill="#32cd32"/>
<rect x="760" y="201" width="5" height="48" fill="#32cd32"/>
<rect x="770" y="232" width="1" height="22" fill="#ff0000"/>
<rect x="768" y="240" width="5" height="8" fill="#ff0000"/>
<rect x="769" y="241" width="3" height="6" fill="#ff4500"/>
<rect x="778" y="225" width="1" height="37" fill="#32cd32"/>
<rect x="776" y="240" width="5" height="18" fill="#32cd32"/>
<rect x="786" y="230" width="1" height="34" fill="#ff0000"/>
<rect x="784" y="241" width="5" height="17" fill="#ff0000"/>
<rect x="785" y="242" width="3" height="15" fill="#ff4500"/>
<rect x="794" y="239" width="1" height="5" fill="#ff0000"/>
<rect x="792" y="241" width="5" height="1" fill="#ff0000"/>
<rect x="802" y="241" width="1" height="29" fill="#32cd32"/>
<rect x="800" y="241" width="5" height="11" fill="#32cd32"/>
<rect x="810" y="250" width="1" height="36" fill="#32cd32"/>
<rect x="808" y="251" width="5" height="12" fill="#32cd32"/>
<rect x="818" y="258" width="1" height="44" fill="#32cd32"/>
<rect x="816" y="262" width="5" height="37" fill="#32cd32"/>
<rect x="826" y="296" width="1" height="64" fill="#32cd32"/>
<rect x="824" y="298" width="5" height="55" fill="#32cd32"/>
<rect x="834" y="336" width="1" height="30" fill="#32cd32"/>
<rect x="832" y="352" width="5" height="1" fill="#32cd32"/>
<rect x="842" y="348" width="1" height="9" fill="#ff0000"/>
<rect x="840" y="348" width="5" height="5" fill="#ff0000"/>
<rect x="841" y="349" width="3" height="3" fill="#ff4500"/>
<rect x="850" y="294" width="1" height="59" fill="#ff0000"/>
<rect x="848" y="304" width="5" height="45" fill="#ff0000"/>
<rect x="849" y="305" width="3" height="43" fill="#ff4500"/>
<rect x="858" y="278" width="1" height="32" fill="#ff0000"/>
<rect x="856" y="279" width="5" height="26" fill="#ff0000"/>
<rect x="857" y="280" width="3" height="24" fill="#ff4500"/>
<rect x="866" y="247" width="1" height="37" fill="#ff0000"/>
<rect x="864" y="264" width="5" height="17" fill="#ff0000"/>
<rect x="865" y="265" width="3" height="15" fill="#ff4500"/>
<rect x="874" y="178" width="1" height="105" fill="#ff0000"/>
<rect x="872" y="187" width="5" height="78" fill="#ff0000"/>
<rect x="873" y="188" width="3" height="76" fill="#ff4500"/>
<rect x="882" y="160" width="1" height="42" fill="#ff0000"/>
<rect x="880" y="180" width="5" height="9" fill="#ff0000"/>
<rect x="881" y="181" width="3" height="7" fill="#ff4500"/>
<rect x="890" y="174" width="1" height="5" fill="#32cd32"/>
<rect x="888" y="175" width="5" height="3" fill="#32cd32"/>
<rect x="898" y="174" width="1" height="26" fill="#32cd32"/>
<rect x="896" y="176" width="5" height="9" fill="#32cd32"/>
<rect x="906" y="180" width="1" height="30" fill="#32cd32"/>
<rect x="904" y="184" width="5" height="14" fill="#32cd32"/>
</g>
<rect x="1" y="24" width="1148" height="1" fill="#000"/>
<rect x="1" y="24" width="1" height="351" fill="#000"/>
<rect x="1148" y="24" width="1" height="351" fill="#000"/>
<rect x="1" y="374" width="1148" height="1" fill="#000"/>
<rect x="1" y="376" width="1148" height="1" fill="#000"/>
<rect x="1" y="376" width="1" height="65" fill="#000"/>
<rect x="1148" y="376" width="1" height="65" fill="#000"/>
<rect x="1" y="440" width="1148" height="1" fill="#000"/>
<rect x="1" y="442" width="1148" height="1" fill="#000"/>
<rect x="1" y="442" width="1" height="67" fill="#000"/>
<rect x="1148" y="442" width="1" height="67" fill="#000"/>
<rect x="1" y="508" width="1148" height="1" fill="#000"/>
<rect x="1148" y="132" width="2" height="2" fill="#ff0000"/>
<rect x="1148" y="205" width="2" height="2" fill="#ff0000"/>
<rect x="1148" y="272" width="2" height="2" fill="#00ff00"/>
<rect x="1148" y="352" width="2" height="2" fill="#0000ff"/>
<rect x="1149" y="41" width="2" height="1" fill="#000"/>
<text x="1154.5" y="45" font-size="9.8" fill="#000" stroke="#000" stroke-width="0.25" textLength="32.2" lengthAdjust="spacingAndGlyphs">1.16925</text>
<rect x="1149" y="74" width="2" height="1" fill="#000"/>
<text x="1154.5" y="78" font-size="9.8" fill="#000" stroke="#000" stroke-width="0.25" textLength="32.2" lengthAdjust="spacingAndGlyphs">1.16340</text>
<rect x="1149" y="107" width="2" height="1" fill="#000"/>
<text x="1154.5" y="111" font-size="9.8" fill="#000" stroke="#000" stroke-width="0.25" textLength="32.2" lengthAdjust="spacingAndGlyphs">1.15755</text>
<rect x="1149" y="140" width="2" height="1" fill="#000"/>
<text x="1154.5" y="144" font-size="9.8" fill="#000" stroke="#000" stroke-width="0.25" textLength="32.2" lengthAdjust="spacingAndGlyphs">1.15185</text>
<rect x="1149" y="173" width="2" height="1" fill="#000"/>
<text x="1154.5" y="177" font-size="9.8" fill="#000" stroke="#000" stroke-width="0.25" textLength="32.2" lengthAdjust="spacingAndGlyphs">1.14600</text>
<rect x="1149" y="239" width="2" height="1" fill="#000"/>
<text x="1154.5" y="243" font-size="9.8" fill="#000" stroke="#000" stroke-width="0.25" textLength="32.2" lengthAdjust="spacingAndGlyphs">1.13430</text>
<rect x="1149" y="305" width="2" height="1" fill="#000"/>
<text x="1154.5" y="309" font-size="9.8" fill="#000" stroke="#000" stroke-width="0.25" textLength="32.2" lengthAdjust="spacingAndGlyphs">1.12260</text>
<rect x="1149" y="338" width="2" height="1" fill="#000"/>
<text x="1154.5" y="342" font-size="9.8" fill="#000" stroke="#000" stroke-width="0.25" textLength="32.2" lengthAdjust="spacingAndGlyphs">1.11690</text>
<rect x="1149" y="371" width="2" height="1" fill="#000"/>
<text x="1154.5" y="375" font-size="9.8" fill="#000" stroke="#000" stroke-width="0.25" textLength="32.2" lengthAdjust="spacingAndGlyphs">1.11105</text>
<rect x="1150" y="192" width="41" height="11" fill="#000"/>
<text x="1154.5" y="200.8" font-size="9.8" fill="#fff" stroke="#fff" stroke-width="0.25" textLength="32.2" lengthAdjust="spacingAndGlyphs">1.14168</text>
<rect x="1150" y="127" width="41" height="11" fill="#ff0000"/>
<text x="1154.5" y="135.8" font-size="9.8" fill="#fff" stroke="#fff" stroke-width="0.25" textLength="32.2" lengthAdjust="spacingAndGlyphs">1.15308</text>
<rect x="1150" y="200" width="41" height="11" fill="#ff0000"/>
<text x="1154.5" y="208.8" font-size="9.8" fill="#fff" stroke="#fff" stroke-width="0.25" textLength="32.2" lengthAdjust="spacingAndGlyphs">1.14014</text>
<rect x="1150" y="267" width="41" height="11" fill="#00ff00"/>
<text x="1154.5" y="275.8" font-size="9.8" fill="#fff" stroke="#fff" stroke-width="0.25" textLength="32.2" lengthAdjust="spacingAndGlyphs">1.12829</text>
<rect x="1150" y="347" width="41" height="11" fill="#0000ff"/>
<text x="1154.5" y="355.8" font-size="9.8" fill="#fff" stroke="#fff" stroke-width="0.25" textLength="32.2" lengthAdjust="spacingAndGlyphs">1.11422</text>
<path d="M4.6 31h8l-4 4.4z" fill="#000"/>
<text x="17.6" y="36" font-size="9.8" fill="#000" stroke="#000" stroke-width="0.25" textLength="66" lengthAdjust="spacingAndGlyphs">EURUSD-,Daily</text>
<text x="90.6" y="36" font-size="9.8" fill="#000" stroke="#000" stroke-width="0.25" textLength="32.4" lengthAdjust="spacingAndGlyphs">1.14402</text>
<text x="126.5" y="36" font-size="9.8" fill="#000" stroke="#000" stroke-width="0.25" textLength="32.4" lengthAdjust="spacingAndGlyphs">1.14478</text>
<text x="162.3" y="36" font-size="9.8" fill="#000" stroke="#000" stroke-width="0.25" textLength="32.4" lengthAdjust="spacingAndGlyphs">1.13954</text>
<text x="198.5" y="36" font-size="9.8" fill="#000" stroke="#000" stroke-width="0.25" textLength="32.4" lengthAdjust="spacingAndGlyphs">1.14168</text>
<clipPath id="c2"><rect x="2" y="377" width="1146" height="63"/></clipPath><g clip-path="url(#c2)">
<rect x="1" y="392" width="3" height="17" fill="#c0c0c0"/>
<rect x="9" y="392" width="3" height="20" fill="#c0c0c0"/>
<rect x="17" y="392" width="3" height="23" fill="#c0c0c0"/>
<rect x="25" y="392" width="3" height="23" fill="#c0c0c0"/>
<rect x="33" y="392" width="3" height="23" fill="#c0c0c0"/>
<rect x="41" y="392" width="3" height="23" fill="#c0c0c0"/>
<rect x="49" y="392" width="3" height="25" fill="#c0c0c0"/>
<rect x="57" y="392" width="3" height="27" fill="#c0c0c0"/>
<rect x="65" y="392" width="3" height="26" fill="#c0c0c0"/>
<rect x="73" y="392" width="3" height="25" fill="#c0c0c0"/>
<rect x="81" y="392" width="3" height="25" fill="#c0c0c0"/>
<rect x="89" y="392" width="3" height="26" fill="#c0c0c0"/>
<rect x="97" y="392" width="3" height="25" fill="#c0c0c0"/>
<rect x="105" y="392" width="3" height="22" fill="#c0c0c0"/>
<rect x="113" y="392" width="3" height="20" fill="#c0c0c0"/>
<rect x="121" y="392" width="3" height="19" fill="#c0c0c0"/>
<rect x="129" y="392" width="3" height="17" fill="#c0c0c0"/>
<rect x="137" y="392" width="3" height="14" fill="#c0c0c0"/>
<rect x="145" y="392" width="3" height="12" fill="#c0c0c0"/>
<rect x="153" y="392" width="3" height="10" fill="#c0c0c0"/>
<rect x="161" y="392" width="3" height="8" fill="#c0c0c0"/>
<rect x="169" y="392" width="3" height="7" fill="#c0c0c0"/>
<rect x="177" y="392" width="3" height="7" fill="#c0c0c0"/>
<rect x="185" y="392" width="3" height="8" fill="#c0c0c0"/>
<rect x="193" y="392" width="3" height="8" fill="#c0c0c0"/>
<rect x="201" y="392" width="3" height="5" fill="#c0c0c0"/>
<rect x="209" y="392" width="3" height="7" fill="#c0c0c0"/>
<rect x="217" y="392" width="3" height="7" fill="#c0c0c0"/>
<rect x="225" y="392" width="3" height="8" fill="#c0c0c0"/>
<rect x="233" y="392" width="3" height="8" fill="#c0c0c0"/>
<rect x="241" y="392" width="3" height="6" fill="#c0c0c0"/>
<rect x="249" y="392" width="3" height="8" fill="#c0c0c0"/>
<rect x="257" y="392" width="3" height="9" fill="#c0c0c0"/>
<rect x="265" y="392" width="3" height="10" fill="#c0c0c0"/>
<rect x="273" y="392" width="3" height="9" fill="#c0c0c0"/>
<rect x="281" y="392" width="3" height="8" fill="#c0c0c0"/>
<rect x="289" y="392" width="3" height="11" fill="#c0c0c0"/>
<rect x="297" y="392" width="3" height="15" fill="#c0c0c0"/>
<rect x="305" y="392" width="3" height="18" fill="#c0c0c0"/>
<rect x="313" y="392" width="3" height="20" fill="#c0c0c0"/>
<rect x="321" y="392" width="3" height="24" fill="#c0c0c0"/>
<rect x="329" y="392" width="3" height="29" fill="#c0c0c0"/>
<rect x="337" y="392" width="3" height="32" fill="#c0c0c0"/>
<rect x="345" y="392" width="3" height="33" fill="#c0c0c0"/>
<rect x="353" y="392" width="3" height="36" fill="#c0c0c0"/>
<rect x="361" y="392" width="3" height="38" fill="#c0c0c0"/>
<rect x="369" y="392" width="3" height="41" fill="#c0c0c0"/>
<rect x="377" y="392" width="3" height="42" fill="#c0c0c0"/>
<rect x="385" y="392" width="3" height="45" fill="#c0c0c0"/>
<rect x="393" y="392" width="3" height="46" fill="#c0c0c0"/>
<rect x="401" y="392" width="3" height="42" fill="#c0c0c0"/>
<rect x="409" y="392" width="3" height="40" fill="#c0c0c0"/>
<rect x="417" y="392" width="3" height="37" fill="#c0c0c0"/>
<rect x="425" y="392" width="3" height="34" fill="#c0c0c0"/>
<rect x="433" y="392" width="3" height="31" fill="#c0c0c0"/>
<rect x="441" y="392" width="3" height="29" fill="#c0c0c0"/>
<rect x="449" y="392" width="3" height="27" fill="#c0c0c0"/>
<rect x="457" y="392" width="3" height="25" fill="#c0c0c0"/>
<rect x="465" y="392" width="3" height="24" fill="#c0c0c0"/>
<rect x="473" y="392" width="3" height="24" fill="#c0c0c0"/>
<rect x="481" y="392" width="3" height="20" fill="#c0c0c0"/>
<rect x="489" y="392" width="3" height="19" fill="#c0c0c0"/>
<rect x="497" y="392" width="3" height="18" fill="#c0c0c0"/>
<rect x="505" y="392" width="3" height="16" fill="#c0c0c0"/>
<rect x="513" y="392" width="3" height="16" fill="#c0c0c0"/>
<rect x="521" y="392" width="3" height="17" fill="#c0c0c0"/>
<rect x="529" y="392" width="3" height="16" fill="#c0c0c0"/>
<rect x="537" y="392" width="3" height="13" fill="#c0c0c0"/>
<rect x="545" y="392" width="3" height="14" fill="#c0c0c0"/>
<rect x="553" y="392" width="3" height="15" fill="#c0c0c0"/>
<rect x="561" y="392" width="3" height="14" fill="#c0c0c0"/>
<rect x="569" y="392" width="3" height="13" fill="#c0c0c0"/>
<rect x="577" y="392" width="3" height="11" fill="#c0c0c0"/>
<rect x="585" y="392" width="3" height="9" fill="#c0c0c0"/>
<rect x="593" y="392" width="3" height="8" fill="#c0c0c0"/>
<rect x="601" y="392" width="3" height="6" fill="#c0c0c0"/>
<rect x="609" y="392" width="3" height="5" fill="#c0c0c0"/>
<rect x="617" y="392" width="3" height="4" fill="#c0c0c0"/>
<rect x="625" y="392" width="3" height="2" fill="#c0c0c0"/>
<rect x="633" y="392" width="3" height="2" fill="#c0c0c0"/>
<rect x="641" y="390" width="3" height="2" fill="#c0c0c0"/>
<rect x="649" y="389" width="3" height="3" fill="#c0c0c0"/>
<rect x="657" y="390" width="3" height="2" fill="#c0c0c0"/>
<rect x="665" y="392" width="3" height="1" fill="#c0c0c0"/>
<rect x="673" y="392" width="3" height="1" fill="#c0c0c0"/>
<rect x="681" y="392" width="3" height="2" fill="#c0c0c0"/>
<rect x="689" y="391" width="3" height="1" fill="#c0c0c0"/>
<rect x="697" y="390" width="3" height="2" fill="#c0c0c0"/>
<rect x="705" y="390" width="3" height="2" fill="#c0c0c0"/>
<rect x="713" y="389" width="3" height="3" fill="#c0c0c0"/>
<rect x="721" y="386" width="3" height="6" fill="#c0c0c0"/>
<rect x="729" y="382" width="3" height="10" fill="#c0c0c0"/>
<rect x="737" y="381" width="3" height="11" fill="#c0c0c0"/>
<rect x="745" y="381" width="3" height="11" fill="#c0c0c0"/>
<rect x="753" y="380" width="3" height="12" fill="#c0c0c0"/>
<rect x="761" y="383" width="3" height="9" fill="#c0c0c0"/>
<rect x="769" y="384" width="3" height="8" fill="#c0c0c0"/>
<rect x="777" y="388" width="3" height="4" fill="#c0c0c0"/>
<rect x="785" y="389" width="3" height="3" fill="#c0c0c0"/>
<rect x="793" y="390" width="3" height="2" fill="#c0c0c0"/>
<rect x="801" y="391" width="3" height="1" fill="#c0c0c0"/>
<rect x="809" y="392" width="3" height="2" fill="#c0c0c0"/>
<rect x="817" y="392" width="3" height="5" fill="#c0c0c0"/>
<rect x="825" y="392" width="3" height="12" fill="#c0c0c0"/>
<rect x="833" y="392" width="3" height="17" fill="#c0c0c0"/>
<rect x="841" y="392" width="3" height="20" fill="#c0c0c0"/>
<rect x="849" y="392" width="3" height="20" fill="#c0c0c0"/>
<rect x="857" y="392" width="3" height="17" fill="#c0c0c0"/>
<rect x="865" y="392" width="3" height="15" fill="#c0c0c0"/>
<rect x="873" y="392" width="3" height="7" fill="#c0c0c0"/>
<rect x="881" y="392" width="3" height="1" fill="#c0c0c0"/>
<rect x="889" y="387" width="3" height="5" fill="#c0c0c0"/>
<rect x="897" y="383" width="3" height="9" fill="#c0c0c0"/>
<rect x="905" y="382" width="3" height="10" fill="#c0c0c0"/>
<path d="M763 384h37v1h-37zM757 385h6v1h-6zM800 385h4v1h-4zM748 386h9v1h-9zM804 386h5v1h-5zM740 387h8v1h-8zM809 387h5v1h-5zM736 388h4v1h-4zM814 388h5v1h-5zM732 389h4v1h-4zM819 389h4v1h-4zM727 390h5v1h-5zM823 390h3v1h-3zM691 391h36v1h-36zM826 391h4v1h-4zM665 392h26v1h-26zM830 392h3v1h-3zM654 393h11v1h-11zM833 393h3v1h-3zM645 394h9v1h-9zM836 394h3v1h-3zM639 395h6v1h-6zM839 395h3v1h-3zM634 396h5v1h-5zM842 396h3v1h-3zM628 397h6v1h-6zM845 397h3v1h-3zM216 398h40v1h-40zM621 398h7v1h-7zM848 398h3v1h-3zM904 398h2v1h-2zM206 399h10v1h-10zM256 399h33v1h-33zM615 399h6v1h-6zM851 399h3v1h-3zM901 399h3v1h-3zM198 400h8v1h-8zM289 400h5v1h-5zM608 400h7v1h-7zM854 400h3v1h-3zM897 400h4v1h-4zM191 401h7v1h-7zM294 401h9v1h-9zM601 401h7v1h-7zM857 401h4v1h-4zM893 401h4v1h-4zM185 402h6v1h-6zM303 402h9v1h-9zM595 402h6v1h-6zM861 402h4v1h-4zM890 402h3v1h-3zM2 403h3v1h-3zM179 403h6v1h-6zM312 403h4v1h-4zM588 403h7v1h-7zM865 403h4v1h-4zM887 403h3v1h-3zM5 404h6v1h-6zM175 404h4v1h-4zM316 404h4v1h-4zM582 404h6v1h-6zM869 404h18v1h-18zM11 405h6v1h-6zM171 405h4v1h-4zM320 405h4v1h-4zM576 405h6v1h-6zM17 406h6v1h-6zM167 406h4v1h-4zM324 406h4v1h-4zM555 406h21v1h-21zM23 407h5v1h-5zM163 407h4v1h-4zM328 407h4v1h-4zM545 407h10v1h-10zM28 408h5v1h-5zM159 408h4v1h-4zM332 408h4v1h-4zM537 408h8v1h-8zM33 409h5v1h-5zM154 409h5v1h-5zM336 409h4v1h-4zM530 409h7v1h-7zM38 410h5v1h-5zM149 410h5v1h-5zM340 410h2v1h-2zM524 410h6v1h-6zM43 411h5v1h-5zM144 411h5v1h-5zM342 411h3v1h-3zM517 411h7v1h-7zM48 412h5v1h-5zM139 412h5v1h-5zM345 412h3v1h-3zM510 412h7v1h-7zM53 413h5v1h-5zM133 413h6v1h-6zM348 413h2v1h-2zM504 413h6v1h-6zM58 414h5v1h-5zM127 414h6v1h-6zM350 414h3v1h-3zM499 414h5v1h-5zM63 415h6v1h-6zM120 415h7v1h-7zM353 415h3v1h-3zM495 415h4v1h-4zM69 416h12v1h-12zM112 416h8v1h-8zM356 416h3v1h-3zM492 416h3v1h-3zM81 417h31v1h-31zM359 417h3v1h-3zM489 417h3v1h-3zM362 418h2v1h-2zM485 418h4v1h-4zM364 419h3v1h-3zM482 419h3v1h-3zM367 420h3v1h-3zM478 420h4v1h-4zM370 421h3v1h-3zM473 421h5v1h-5zM373 422h2v1h-2zM469 422h4v1h-4zM375 423h2v1h-2zM465 423h4v1h-4zM377 424h3v1h-3zM461 424h4v1h-4zM380 425h2v1h-2zM458 425h3v1h-3zM382 426h2v1h-2zM455 426h3v1h-3zM384 427h4v1h-4zM453 427h2v1h-2zM388 428h5v1h-5zM448 428h5v1h-5zM393 429h5v1h-5zM442 429h6v1h-6zM398 430h6v1h-6zM437 430h5v1h-5zM404 431h8v1h-8zM432 431h5v1h-5zM412 432h20v1h-20z" fill="#ff0000" shape-rendering="crispEdges"/>
</g>
<text x="6" y="389" font-size="9.8" fill="#000" stroke="#000" stroke-width="0.25" textLength="150" lengthAdjust="spacingAndGlyphs">MACD(12,26,9) 0.002252 -0.001233</text>
<text x="1152" y="387" font-size="9.8" fill="#000" stroke="#000" stroke-width="0.25" textLength="38" lengthAdjust="spacingAndGlyphs">0.003165</text>
<text x="1152" y="395.7" font-size="9.8" fill="#000" stroke="#000" stroke-width="0.25" textLength="18" lengthAdjust="spacingAndGlyphs">0.00</text>
<text x="1152" y="437" font-size="9.8" fill="#000" stroke="#000" stroke-width="0.25" textLength="41" lengthAdjust="spacingAndGlyphs">-0.010431</text>
<path d="M726 467h5v1h-5zM878 467h16v1h-16zM721 468h5v1h-5zM731 468h2v1h-2zM874 468h4v1h-4zM894 468h6v1h-6zM719 469h2v1h-2zM733 469h2v1h-2zM873 469h1v1h-1zM900 469h4v1h-4zM202 470h1v1h-1zM717 470h2v1h-2zM735 470h2v1h-2zM872 470h1v1h-1zM904 470h3v1h-3zM201 471h1v1h-1zM203 471h1v1h-1zM641 471h10v1h-10zM715 471h2v1h-2zM737 471h18v1h-18zM870 471h2v1h-2zM200 472h1v1h-1zM203 472h1v1h-1zM625 472h3v1h-3zM639 472h2v1h-2zM651 472h1v1h-1zM690 472h4v1h-4zM713 472h2v1h-2zM755 472h1v1h-1zM869 472h1v1h-1zM145 473h2v1h-2zM200 473h1v1h-1zM204 473h1v1h-1zM623 473h2v1h-2zM628 473h2v1h-2zM637 473h2v1h-2zM652 473h2v1h-2zM688 473h2v1h-2zM694 473h6v1h-6zM710 473h3v1h-3zM756 473h1v1h-1zM868 473h1v1h-1zM142 474h3v1h-3zM147 474h2v1h-2zM199 474h1v1h-1zM205 474h1v1h-1zM606 474h6v1h-6zM621 474h2v1h-2zM630 474h3v1h-3zM635 474h2v1h-2zM654 474h1v1h-1zM687 474h1v1h-1zM700 474h4v1h-4zM708 474h2v1h-2zM757 474h1v1h-1zM867 474h1v1h-1zM140 475h2v1h-2zM149 475h2v1h-2zM160 475h11v1h-11zM198 475h1v1h-1zM206 475h1v1h-1zM537 475h2v1h-2zM577 475h13v1h-13zM598 475h8v1h-8zM612 475h4v1h-4zM619 475h2v1h-2zM633 475h2v1h-2zM655 475h1v1h-1zM686 475h1v1h-1zM704 475h4v1h-4zM758 475h2v1h-2zM864 475h3v1h-3zM136 476h4v1h-4zM151 476h2v1h-2zM156 476h4v1h-4zM171 476h2v1h-2zM197 476h1v1h-1zM206 476h1v1h-1zM241 476h2v1h-2zM278 476h5v1h-5zM482 476h1v1h-1zM535 476h2v1h-2zM539 476h1v1h-1zM574 476h3v1h-3zM590 476h8v1h-8zM616 476h3v1h-3zM656 476h2v1h-2zM673 476h3v1h-3zM684 476h2v1h-2zM760 476h1v1h-1zM768 476h4v1h-4zM785 476h11v1h-11zM860 476h4v1h-4zM132 477h4v1h-4zM153 477h3v1h-3zM173 477h2v1h-2zM196 477h1v1h-1zM207 477h1v1h-1zM225 477h3v1h-3zM238 477h3v1h-3zM243 477h2v1h-2zM272 477h6v1h-6zM283 477h1v1h-1zM481 477h1v1h-1zM483 477h2v1h-2zM533 477h2v1h-2zM540 477h2v1h-2zM572 477h2v1h-2zM658 477h2v1h-2zM670 477h3v1h-3zM676 477h4v1h-4zM683 477h1v1h-1zM761 477h1v1h-1zM764 477h4v1h-4zM772 477h2v1h-2zM782 477h3v1h-3zM796 477h4v1h-4zM857 477h3v1h-3zM128 478h4v1h-4zM175 478h2v1h-2zM196 478h1v1h-1zM208 478h1v1h-1zM223 478h2v1h-2zM228 478h4v1h-4zM236 478h2v1h-2zM245 478h2v1h-2zM268 478h4v1h-4zM284 478h1v1h-1zM480 478h1v1h-1zM485 478h2v1h-2zM496 478h12v1h-12zM531 478h2v1h-2zM542 478h1v1h-1zM566 478h6v1h-6zM660 478h4v1h-4zM668 478h2v1h-2zM680 478h3v1h-3zM762 478h2v1h-2zM774 478h3v1h-3zM780 478h2v1h-2zM800 478h6v1h-6zM854 478h3v1h-3zM112 479h6v1h-6zM124 479h4v1h-4zM177 479h5v1h-5zM195 479h1v1h-1zM209 479h1v1h-1zM221 479h2v1h-2zM232 479h4v1h-4zM247 479h2v1h-2zM262 479h6v1h-6zM285 479h1v1h-1zM478 479h2v1h-2zM487 479h2v1h-2zM492 479h4v1h-4zM508 479h2v1h-2zM529 479h2v1h-2zM543 479h1v1h-1zM561 479h5v1h-5zM664 479h4v1h-4zM777 479h3v1h-3zM806 479h5v1h-5zM852 479h2v1h-2zM108 480h4v1h-4zM118 480h6v1h-6zM182 480h13v1h-13zM209 480h1v1h-1zM219 480h2v1h-2zM249 480h13v1h-13zM286 480h1v1h-1zM425 480h13v1h-13zM477 480h1v1h-1zM489 480h3v1h-3zM510 480h3v1h-3zM526 480h3v1h-3zM544 480h2v1h-2zM558 480h3v1h-3zM811 480h2v1h-2zM850 480h2v1h-2zM98 481h10v1h-10zM210 481h9v1h-9zM287 481h1v1h-1zM422 481h3v1h-3zM438 481h22v1h-22zM476 481h1v1h-1zM513 481h5v1h-5zM524 481h2v1h-2zM546 481h4v1h-4zM556 481h2v1h-2zM813 481h1v1h-1zM849 481h1v1h-1zM97 482h1v1h-1zM288 482h1v1h-1zM402 482h4v1h-4zM420 482h2v1h-2zM460 482h4v1h-4zM475 482h1v1h-1zM518 482h6v1h-6zM550 482h6v1h-6zM814 482h2v1h-2zM848 482h1v1h-1zM96 483h1v1h-1zM289 483h1v1h-1zM401 483h1v1h-1zM406 483h14v1h-14zM464 483h11v1h-11zM816 483h2v1h-2zM847 483h1v1h-1zM95 484h1v1h-1zM290 484h2v1h-2zM400 484h1v1h-1zM818 484h1v1h-1zM846 484h1v1h-1zM94 485h1v1h-1zM292 485h4v1h-4zM400 485h1v1h-1zM819 485h2v1h-2zM845 485h1v1h-1zM30 486h8v1h-8zM65 486h5v1h-5zM94 486h1v1h-1zM296 486h19v1h-19zM346 486h1v1h-1zM399 486h1v1h-1zM821 486h2v1h-2zM844 486h1v1h-1zM24 487h6v1h-6zM38 487h6v1h-6zM62 487h3v1h-3zM70 487h8v1h-8zM93 487h1v1h-1zM315 487h2v1h-2zM344 487h2v1h-2zM347 487h2v1h-2zM398 487h1v1h-1zM823 487h2v1h-2zM843 487h1v1h-1zM20 488h4v1h-4zM44 488h2v1h-2zM60 488h2v1h-2zM78 488h6v1h-6zM92 488h1v1h-1zM317 488h2v1h-2zM343 488h1v1h-1zM349 488h2v1h-2zM397 488h1v1h-1zM825 488h18v1h-18zM17 489h3v1h-3zM46 489h3v1h-3zM54 489h6v1h-6zM84 489h4v1h-4zM91 489h1v1h-1zM319 489h2v1h-2zM342 489h1v1h-1zM351 489h2v1h-2zM396 489h1v1h-1zM2 490h2v1h-2zM14 490h3v1h-3zM49 490h5v1h-5zM88 490h3v1h-3zM321 490h3v1h-3zM340 490h2v1h-2zM353 490h13v1h-13zM396 490h1v1h-1zM4 491h4v1h-4zM12 491h2v1h-2zM324 491h4v1h-4zM339 491h1v1h-1zM366 491h14v1h-14zM395 491h1v1h-1zM8 492h4v1h-4zM328 492h11v1h-11zM380 492h4v1h-4zM390 492h5v1h-5zM384 493h6v1h-6z" fill="#1e90ff" shape-rendering="crispEdges"/>
<line x1="4" y1="463.5" x2="1148" y2="463.5" stroke="#c0c0c0" stroke-width="1" stroke-dasharray="3 3" shape-rendering="crispEdges"/>
<line x1="4" y1="488.5" x2="1148" y2="488.5" stroke="#c0c0c0" stroke-width="1" stroke-dasharray="3 3" shape-rendering="crispEdges"/>
<text x="6" y="455" font-size="9.8" fill="#000" stroke="#000" stroke-width="0.25" textLength="68" lengthAdjust="spacingAndGlyphs">RSI(14) 58.8819</text>
<text x="1152" y="453" font-size="9.8" fill="#000" stroke="#000" stroke-width="0.25" textLength="15.5" lengthAdjust="spacingAndGlyphs">100</text>
<text x="1152" y="467" font-size="9.8" fill="#000" stroke="#000" stroke-width="0.25" textLength="10.3" lengthAdjust="spacingAndGlyphs">70</text>
<text x="1152" y="491.5" font-size="9.8" fill="#000" stroke="#000" stroke-width="0.25" textLength="10.3" lengthAdjust="spacingAndGlyphs">30</text>
<text x="1152" y="505" font-size="9.8" fill="#000" stroke="#000" stroke-width="0.25">0</text>
<rect x="2" y="509" width="1" height="3" fill="#000"/>
<text x="1.5" y="520.5" font-size="9.8" fill="#000" stroke="#000" stroke-width="0.25" textLength="50.7" lengthAdjust="spacingAndGlyphs">29 Sep 2021</text>
<rect x="66" y="509" width="1" height="3" fill="#000"/>
<text x="65.5" y="520.5" font-size="9.8" fill="#000" stroke="#000" stroke-width="0.25" textLength="44.5" lengthAdjust="spacingAndGlyphs">8 Oct 2021</text>
<rect x="130" y="509" width="1" height="3" fill="#000"/>
<text x="129.5" y="520.5" font-size="9.8" fill="#000" stroke="#000" stroke-width="0.25" textLength="49.5" lengthAdjust="spacingAndGlyphs">18 Oct 2021</text>
<rect x="194" y="509" width="1" height="3" fill="#000"/>
<text x="193.5" y="520.5" font-size="9.8" fill="#000" stroke="#000" stroke-width="0.25" textLength="49.5" lengthAdjust="spacingAndGlyphs">27 Oct 2021</text>
<rect x="258" y="509" width="1" height="3" fill="#000"/>
<text x="257.5" y="520.5" font-size="9.8" fill="#000" stroke="#000" stroke-width="0.25" textLength="48.1" lengthAdjust="spacingAndGlyphs">5 Nov 2021</text>
<rect x="322" y="509" width="1" height="3" fill="#000"/>
<text x="321.5" y="520.5" font-size="9.8" fill="#000" stroke="#000" stroke-width="0.25" textLength="53.1" lengthAdjust="spacingAndGlyphs">15 Nov 2021</text>
<rect x="386" y="509" width="1" height="3" fill="#000"/>
<text x="385.5" y="520.5" font-size="9.8" fill="#000" stroke="#000" stroke-width="0.25" textLength="53.1" lengthAdjust="spacingAndGlyphs">24 Nov 2021</text>
<rect x="450" y="509" width="1" height="3" fill="#000"/>
<text x="449.5" y="520.5" font-size="9.8" fill="#000" stroke="#000" stroke-width="0.25" textLength="46.0" lengthAdjust="spacingAndGlyphs">3 Dec 2021</text>
<rect x="514" y="509" width="1" height="3" fill="#000"/>
<text x="513.5" y="520.5" font-size="9.8" fill="#000" stroke="#000" stroke-width="0.25" textLength="51.0" lengthAdjust="spacingAndGlyphs">13 Dec 2021</text>
<rect x="578" y="509" width="1" height="3" fill="#000"/>
<text x="577.5" y="520.5" font-size="9.8" fill="#000" stroke="#000" stroke-width="0.25" textLength="51.0" lengthAdjust="spacingAndGlyphs">22 Dec 2021</text>
<rect x="642" y="509" width="1" height="3" fill="#000"/>
<text x="641.5" y="520.5" font-size="9.8" fill="#000" stroke="#000" stroke-width="0.25" textLength="51.0" lengthAdjust="spacingAndGlyphs">31 Dec 2021</text>
<rect x="706" y="509" width="1" height="3" fill="#000"/>
<text x="705.5" y="520.5" font-size="9.8" fill="#000" stroke="#000" stroke-width="0.25" textLength="49.4" lengthAdjust="spacingAndGlyphs">10 Jan 2022</text>
<rect x="770" y="509" width="1" height="3" fill="#000"/>
<text x="769.5" y="520.5" font-size="9.8" fill="#000" stroke="#000" stroke-width="0.25" textLength="49.4" lengthAdjust="spacingAndGlyphs">19 Jan 2022</text>
<rect x="834" y="509" width="1" height="3" fill="#000"/>
<text x="833.5" y="520.5" font-size="9.8" fill="#000" stroke="#000" stroke-width="0.25" textLength="49.4" lengthAdjust="spacingAndGlyphs">28 Jan 2022</text>
<rect x="898" y="509" width="1" height="3" fill="#000"/>
<text x="897.5" y="520.5" font-size="9.8" fill="#000" stroke="#000" stroke-width="0.25" textLength="45.3" lengthAdjust="spacingAndGlyphs">7 Feb 2022</text>
<rect x="0" y="529" width="1192" height="1" fill="#e3e3e3"/>
<rect x="0" y="532" width="1192" height="23" fill="#f0f0f0"/>
<rect x="0" y="551" width="1192" height="1" fill="#fff"/>
<rect x="0" y="531" width="1192" height="1" fill="#000"/>
<path d="M1167.5 537v7l-4-3.5z" fill="#a0a0a0"/><path d="M1182.5 537v7l4-3.5z" fill="#a0a0a0"/>
<rect x="104" y="531" width="107" height="18" fill="#fff"/>
<rect x="103" y="531" width="1" height="19" fill="#000"/>
<rect x="210" y="531" width="2" height="19" fill="#000"/>
<rect x="103" y="549" width="109" height="1" fill="#000"/>
<text x="14.5" y="546" font-size="12.5" fill="#808080" stroke="#808080" stroke-width="0.25" textLength="77.5" lengthAdjust="spacingAndGlyphs">USDX,Weekly</text>
<text x="114.6" y="546" font-size="12.5" fill="#000" stroke="#000" stroke-width="0.25" textLength="84.4" lengthAdjust="spacingAndGlyphs">EURUSD-,Daily</text>
<text x="221.3" y="546" font-size="12.5" fill="#808080" stroke="#808080" stroke-width="0.25" textLength="86.2" lengthAdjust="spacingAndGlyphs">AUDUSD-,Daily</text>
<text x="331" y="546" font-size="12.5" fill="#808080" stroke="#808080" stroke-width="0.25" textLength="83.6" lengthAdjust="spacingAndGlyphs">USDCHF-,Daily</text>
<text x="438.5" y="546" font-size="12.5" fill="#808080" stroke="#808080" stroke-width="0.25" textLength="85.1" lengthAdjust="spacingAndGlyphs">USDCAD-,Daily</text>
<text x="547.2" y="546" font-size="12.5" fill="#808080" stroke="#808080" stroke-width="0.25" textLength="88.1" lengthAdjust="spacingAndGlyphs">USDCNH-,Daily</text>
<text x="657.5" y="546" font-size="12.5" fill="#808080" stroke="#808080" stroke-width="0.25" textLength="74.0" lengthAdjust="spacingAndGlyphs">XAUUSD-,H1</text>
<text x="754.1" y="546" font-size="12.5" fill="#808080" stroke="#808080" stroke-width="0.25" textLength="56.9" lengthAdjust="spacingAndGlyphs">UKOil-,H4</text>
<text x="835.4" y="546" font-size="12.5" fill="#808080" stroke="#808080" stroke-width="0.25" textLength="64.6" lengthAdjust="spacingAndGlyphs">DJ30-,Daily</text>
<text x="922.4" y="546" font-size="12.5" fill="#808080" stroke="#808080" stroke-width="0.25" textLength="61.6" lengthAdjust="spacingAndGlyphs">UK100-,H1</text>
<rect x="319" y="534" width="1" height="14" fill="#696969"/>
<rect x="427" y="534" width="1" height="14" fill="#696969"/>
<rect x="535" y="534" width="1" height="14" fill="#696969"/>
<rect x="647" y="534" width="1" height="14" fill="#696969"/>
<rect x="743" y="534" width="1" height="14" fill="#696969"/>
<rect x="823" y="534" width="1" height="14" fill="#696969"/>
<rect x="912" y="534" width="1" height="14" fill="#696969"/>
<rect x="995" y="534" width="1" height="14" fill="#696969"/>
</svg>
</body></html>
